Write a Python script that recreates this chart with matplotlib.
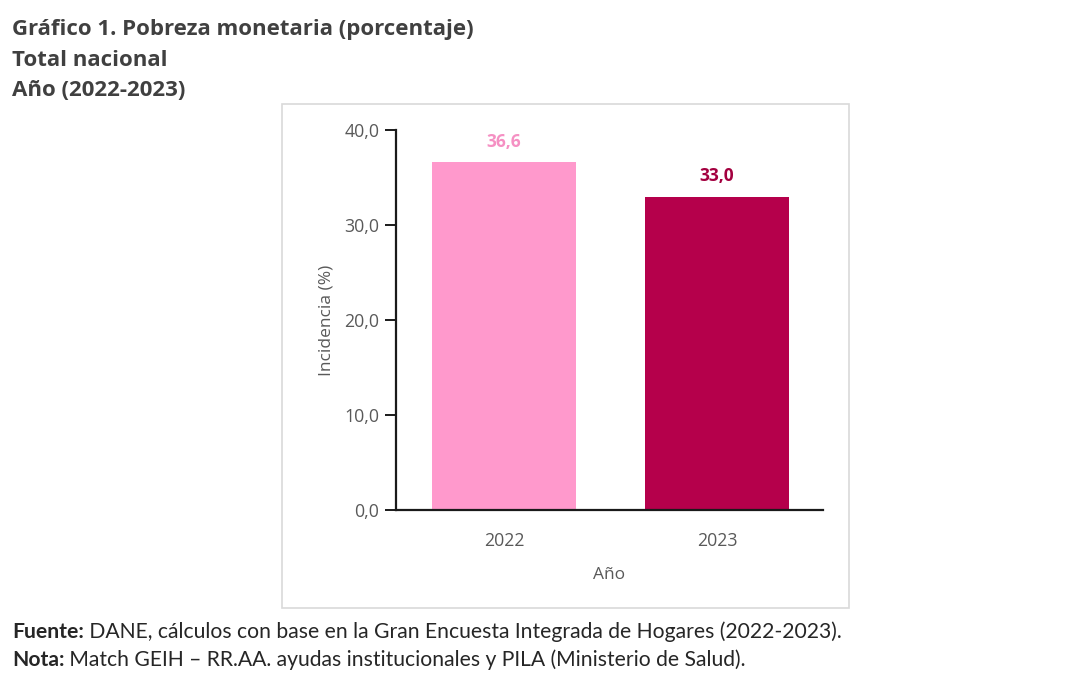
import matplotlib
matplotlib.use("Agg")
import matplotlib.pyplot as plt
from matplotlib.patches import Rectangle

years = ["2022", "2023"]
values = [36.6, 33.0]
value_labels = ["36,6", "33,0"]
bar_colors = ["#FF99CC", "#B5004B"]
label_colors = ["#F590C3", "#A3003F"]
yticks = [0, 10, 20, 30, 40]
ytick_labels = ["0,0", "10,0", "20,0", "30,0", "40,0"]
title_lines = ["Gráfico 1. Pobreza monetaria (porcentaje)", "Total nacional", "Año (2022-2023)"]
footer = [("Fuente:", " DANE, cálculos con base en la Gran Encuesta Integrada de Hogares (2022-2023)."),
          ("Nota:", " Match GEIH – RR.AA. ayudas institucionales y PILA (Ministerio de Salud).")]

plt.rcParams['font.family'] = ['Open Sans', 'DejaVu Sans']

W, H = 1080, 675
fig = plt.figure(figsize=(W/100, H/100), dpi=100)
fig.patch.set_facecolor("white")

# chart box
fig.add_artist(Rectangle((282/W, 1-608/H), (849-282)/W, (608-104)/H, transform=fig.transFigure,
                         fill=False, edgecolor="#D9D9D9", linewidth=1.2))

ax = fig.add_axes([396/W, 1-510/H, (823-396)/W, (510-130)/H])
x = list(range(len(years)))
ax.bar(x, values, width=0.675, color=bar_colors, zorder=2)
ax.set_xlim(-0.507, 1.498)
ax.set_ylim(0, 40)
ax.set_yticks(yticks)
ax.set_yticklabels(ytick_labels)
ax.set_xticks(x)
ax.set_xticklabels(years)
for s in ["top", "right"]:
    ax.spines[s].set_visible(False)
for s in ["left", "bottom"]:
    ax.spines[s].set_color("#1a1a1a")
    ax.spines[s].set_linewidth(1.6)
ax.tick_params(axis="y", direction="out", length=8, width=1.4, color="#1a1a1a",
               labelsize=12.8, labelcolor="#595959", pad=4)
ax.tick_params(axis="x", length=0, labelsize=12.8, labelcolor="#595959", pad=16)
ax.set_ylabel("Incidencia (%)", fontsize=12.5, color="#595959", labelpad=7)
ax.set_xlabel("Año", fontsize=12.5, color="#595959", labelpad=12)
for xi, v, lab, c in zip(x, values, value_labels, label_colors):
    ax.annotate(lab, (xi, v), xytext=(0, 8), textcoords="offset points", ha="center",
                va="bottom", fontsize=12.5, fontweight="bold", color=c)

# titles
for i, t in enumerate(title_lines):
    fig.text(12/W, 1-(29+i*31)/H, t, fontsize=16, fontweight="bold", color="#404040",
             ha="left", va="center")

# footer
fig.canvas.draw()
r = fig.canvas.get_renderer()
for i, (b, rest) in enumerate(footer):
    y = 1-(632+i*28)/H
    tb = fig.text(12/W, y, b, fontsize=15.2, fontweight="bold", color="#262626", ha="left", va="center",
                  family=["Lato", "DejaVu Sans"])
    ext = tb.get_window_extent(renderer=r)
    fig.text(ext.x1/W, y, rest, fontsize=15.2, color="#262626", ha="left", va="center",
             family=["Lato", "DejaVu Sans"])

fig.savefig("out.png", dpi=100)
